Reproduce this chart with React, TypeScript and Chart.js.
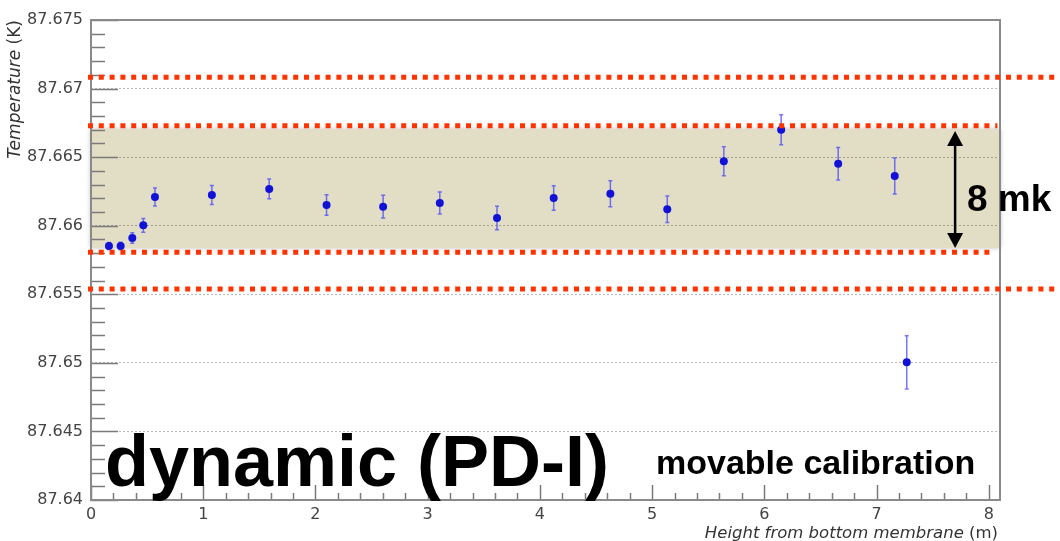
import { useEffect, useRef } from "react";
import { Chart, registerables } from "chart.js";

Chart.register(...registerables);

// ---- data ----
const heights = [0.16, 0.264, 0.368, 0.466, 0.57, 1.077, 1.588, 2.099, 2.603, 3.108, 3.618, 4.123, 4.628, 5.135, 5.639, 6.15, 6.658, 7.162, 7.269];
const temps = [87.65852, 87.65852, 87.6591, 87.66003, 87.66209, 87.66224, 87.66268, 87.66151, 87.66139, 87.66166, 87.66056, 87.66202, 87.66233, 87.6612, 87.6647, 87.667, 87.66452, 87.66362, 87.65004];
const errors = [0.00025, 0.00028, 0.00038, 0.0005, 0.00066, 0.0007, 0.00072, 0.00075, 0.00083, 0.0008, 0.00086, 0.0009, 0.00095, 0.00097, 0.00105, 0.0011, 0.00118, 0.00131, 0.00194];

const xTicks = [0, 1, 2, 3, 4, 5, 6, 7, 8];
const yTicks = [87.64, 87.645, 87.65, 87.655, 87.66, 87.665, 87.67, 87.675];

const bandLow = 87.65837;
const bandHigh = 87.66705;
const refLines = [87.67082, 87.66729, 87.65806, 87.65539];
const refLineEnds: (number | null)[] = [null, 8.077, 8.005, null];
const arrowX = 7.7;
const arrowTop = 87.6669;
const arrowBottom = 87.65837;

const xMin = 0, xMax = 8.1, yMin = 87.64, yMax = 87.675;

const AXIS_FONT = '"DejaVu Sans", "Liberation Sans", Arial, sans-serif';
const BOLD_FONT = '"Liberation Sans", Arial, Helvetica, sans-serif';

const overlay = {
  id: "overlay",
  beforeDraw(chart: any) {
    const { ctx, chartArea: a, scales } = chart;
    const y = scales.y;
    const top = y.getPixelForValue(bandHigh);
    const bot = y.getPixelForValue(bandLow);
    ctx.save();
    ctx.shadowColor = "rgba(0,0,0,0.3)";
    ctx.shadowBlur = 5;
    ctx.fillStyle = "#e2dec6";
    ctx.fillRect(a.left, top, a.right - a.left, bot - top);
    ctx.restore();
  },
  beforeDatasetsDraw(chart: any) {
    const { ctx, scales } = chart;
    const { x, y } = scales;
    ctx.save();
    ctx.strokeStyle = "rgba(60,60,255,0.7)";
    ctx.lineWidth = 1.5;
    heights.forEach((h, i) => {
      const px = x.getPixelForValue(h);
      const y1 = y.getPixelForValue(temps[i] + errors[i]);
      const y2 = y.getPixelForValue(temps[i] - errors[i]);
      ctx.beginPath();
      ctx.moveTo(px, y1);
      ctx.lineTo(px, y2);
      ctx.moveTo(px - 2, y1);
      ctx.lineTo(px + 2, y1);
      ctx.moveTo(px - 2, y2);
      ctx.lineTo(px + 2, y2);
      ctx.stroke();
    });
    ctx.restore();
  },
  afterDraw(chart: any) {
    const { ctx, chartArea: a, scales, width } = chart;
    const { x, y } = scales;
    ctx.save();

    // inner tick marks
    ctx.strokeStyle = "#7a7a7a";
    ctx.lineWidth = 1.5;
    for (let k = 0; k <= 35; k++) {
      const v = yMin + k * 0.001;
      const py = Math.round(y.getPixelForValue(v)) + 0.5;
      const len = k % 5 === 0 ? 27 : 14;
      ctx.beginPath();
      ctx.moveTo(a.left, py);
      ctx.lineTo(a.left + len, py);
      ctx.stroke();
    }
    for (let k = 0; k <= 40; k++) {
      const v = k * 0.2;
      const px = Math.round(x.getPixelForValue(v)) + 0.5;
      const len = k % 5 === 0 ? 15 : 7;
      ctx.beginPath();
      ctx.moveTo(px, a.bottom);
      ctx.lineTo(px, a.bottom - len);
      ctx.stroke();
    }

    // frame
    ctx.strokeStyle = "#8a8a8a";
    ctx.lineWidth = 2;
    ctx.strokeRect(a.left, a.top, a.right - a.left, a.bottom - a.top);

    // red dotted reference lines
    ctx.strokeStyle = "#ff3300";
    ctx.lineWidth = 5;
    ctx.setLineDash([5, 5.8]);
    refLines.forEach((v, i) => {
      const py = y.getPixelForValue(v);
      const end = refLineEnds[i];
      const xe = end === null ? width : x.getPixelForValue(end);
      ctx.beginPath();
      ctx.moveTo(a.left - 3, py);
      ctx.lineTo(xe, py);
      ctx.stroke();
    });
    ctx.setLineDash([]);

    // double arrow
    const ax = x.getPixelForValue(arrowX);
    const at = y.getPixelForValue(arrowTop);
    const ab = y.getPixelForValue(arrowBottom);
    ctx.strokeStyle = "#000";
    ctx.fillStyle = "#000";
    ctx.lineWidth = 2.5;
    ctx.beginPath();
    ctx.moveTo(ax, at + 10);
    ctx.lineTo(ax, ab - 10);
    ctx.stroke();
    ctx.beginPath();
    ctx.moveTo(ax, at);
    ctx.lineTo(ax - 8, at + 15);
    ctx.lineTo(ax + 8, at + 15);
    ctx.closePath();
    ctx.fill();
    ctx.beginPath();
    ctx.moveTo(ax, ab);
    ctx.lineTo(ax - 8, ab - 15);
    ctx.lineTo(ax + 8, ab - 15);
    ctx.closePath();
    ctx.fill();

    // annotation texts
    ctx.fillStyle = "#000";
    ctx.textBaseline = "alphabetic";
    ctx.textAlign = "left";
    ctx.font = `bold 37px ${BOLD_FONT}`;
    ctx.fillText("8 mk", 967, 211);
    ctx.font = `bold 72px ${BOLD_FONT}`;
    ctx.fillText("dynamic (PD-I)", 105, 486);
    ctx.font = `bold 34px ${BOLD_FONT}`;
    ctx.fillText("movable calibration", 656, 474);

    // axis titles
    ctx.fillStyle = "#333";
    const xt1 = "Height from bottom membrane";
    const xt2 = " (m)";
    ctx.font = `italic 16.5px ${AXIS_FONT}`;
    const w1 = ctx.measureText(xt1).width;
    ctx.font = `16.5px ${AXIS_FONT}`;
    const w2 = ctx.measureText(xt2).width;
    const xr = 998;
    ctx.font = `italic 16.5px ${AXIS_FONT}`;
    ctx.fillText(xt1, xr - w1 - w2, 538);
    ctx.font = `16.5px ${AXIS_FONT}`;
    ctx.fillText(xt2, xr - w2, 538);

    const yt1 = "Temperature";
    const yt2 = " (K)";
    ctx.font = `italic 17px ${AXIS_FONT}`;
    const v1 = ctx.measureText(yt1).width;
    ctx.font = `17px ${AXIS_FONT}`;
    const v2 = ctx.measureText(yt2).width;
    ctx.translate(20, a.top);
    ctx.rotate(-Math.PI / 2);
    ctx.font = `italic 17px ${AXIS_FONT}`;
    ctx.fillText(yt1, -(v1 + v2), 0);
    ctx.font = `17px ${AXIS_FONT}`;
    ctx.fillText(yt2, -v2, 0);

    ctx.restore();
  },
};

export default function App() {
  const ref = useRef<HTMLCanvasElement | null>(null);

  useEffect(() => {
    if (!ref.current) return;
    const chart = new Chart(ref.current, {
      type: "scatter",
      data: {
        datasets: [
          {
            data: heights.map((h, i) => ({ x: h, y: temps[i] })),
            backgroundColor: "#1212d6",
            borderWidth: 0,
            pointRadius: 4,
          },
        ],
      },
      options: {
        responsive: false,
        animation: false,
        layout: { padding: { top: 20, right: 60, left: 0, bottom: 0 } },
        plugins: { legend: { display: false }, tooltip: { enabled: false } },
        scales: {
          x: {
            type: "linear",
            min: xMin,
            max: xMax,
            afterFit: (s: any) => {
              s.height = 41;
            },
            afterBuildTicks: (s: any) => {
              s.ticks = xTicks.map((v) => ({ value: v }));
            },
            ticks: {
              color: "#444",
              font: { family: AXIS_FONT, size: 16 },
              padding: -3,
              maxRotation: 0,
              autoSkip: false,
              callback: (v: any) => String(v),
            },
            grid: { display: false },
            border: { display: false },
          },
          y: {
            type: "linear",
            min: yMin,
            max: yMax,
            afterFit: (s: any) => {
              s.width = 91;
            },
            afterBuildTicks: (s: any) => {
              s.ticks = yTicks.map((v) => ({ value: v }));
            },
            ticks: {
              color: "#444",
              font: { family: AXIS_FONT, size: 16 },
              padding: 8,
              autoSkip: false,
              callback: (v: any) => String(Number(Number(v).toFixed(3))),
            },
            grid: { color: "rgba(0,0,0,0.28)", lineWidth: 1, drawTicks: false },
            border: { display: false, dash: [2, 2] },
          },
        },
      },
      plugins: [overlay],
    });
    return () => chart.destroy();
  }, []);

  return (
    <div style={{ position: "absolute", left: 0, top: 0, width: 1060, height: 541, background: "#fff" }}>
      <canvas ref={ref} width={1060} height={541} />
    </div>
  );
}
